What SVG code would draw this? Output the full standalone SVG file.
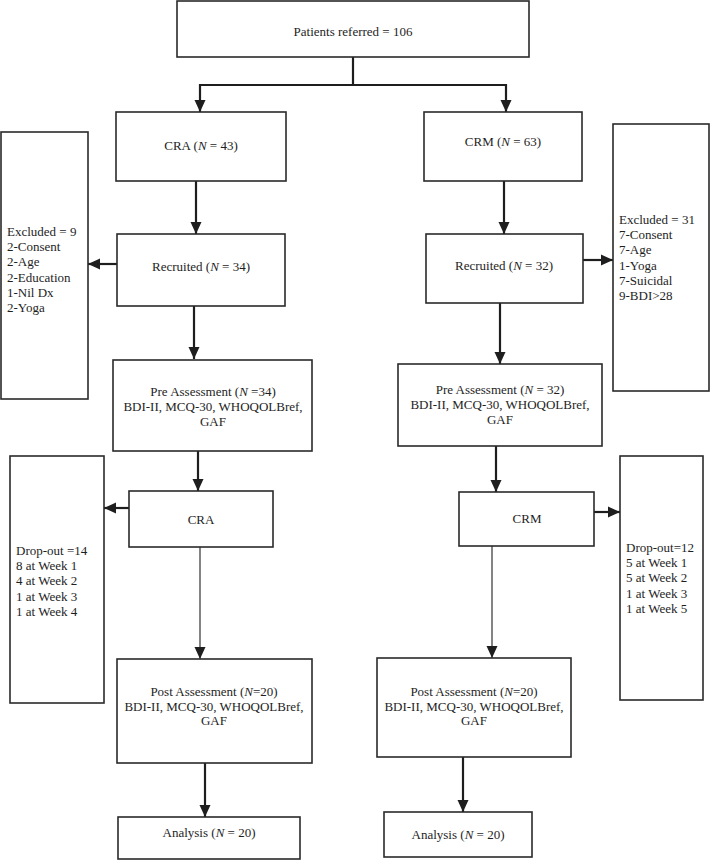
<svg xmlns="http://www.w3.org/2000/svg" width="710" height="861" viewBox="0 0 710 861">
<style>
.box{fill:#fff;stroke:#2a2a2a;stroke-width:1.6}
.t{font-family:"Liberation Serif","Times New Roman",serif;font-size:13px;fill:#1e1e1e}
.c{text-anchor:middle}
.i{font-style:italic}
.ln{fill:none;stroke:#1e1e1e;stroke-width:2.2}
.thin{fill:none;stroke:#1e1e1e;stroke-width:1.1}
</style>
<defs>
<marker id="ah" markerUnits="userSpaceOnUse" markerWidth="12" markerHeight="12" refX="12" refY="6" orient="auto">
<path d="M0,0.5 L12,6 L0,11.5 z" fill="#1e1e1e"/>
</marker>
</defs>
<rect width="710" height="861" fill="#fff"/>
<g id="connectors">
<path class="ln" d="M353,57 V85 H200 V112" marker-end="url(#ah)"/>
<path class="ln" d="M353,85 H506 V112" marker-end="url(#ah)"/>
<path class="ln" d="M196,181 V234" marker-end="url(#ah)"/>
<path class="ln" d="M117,264 H88" marker-end="url(#ah)"/>
<path class="ln" d="M504,181 V234" marker-end="url(#ah)"/>
<path class="ln" d="M583,260 H613" marker-end="url(#ah)"/>
<path class="ln" d="M194,306 V359" marker-end="url(#ah)"/>
<path class="ln" d="M198,451 V491" marker-end="url(#ah)"/>
<path class="ln" d="M129,508 H104" marker-end="url(#ah)"/>
<path class="thin" d="M200,547 V659" marker-end="url(#ah)"/>
<path class="ln" d="M205,763 V817" marker-end="url(#ah)"/>
<path class="ln" d="M500,303 V364" marker-end="url(#ah)"/>
<path class="ln" d="M496,446 V492" marker-end="url(#ah)"/>
<path class="ln" d="M594,512 H620" marker-end="url(#ah)"/>
<path class="thin" d="M492,546 V658" marker-end="url(#ah)"/>
<path class="ln" d="M463,757 V812" marker-end="url(#ah)"/>
</g>
<g id="referred">
<rect class="box" x="177" y="1" width="352" height="56"/>
<text class="t c" x="353" y="36">Patients referred = 106</text>
</g>
<g id="cra">
<rect class="box" x="116" y="112" width="170" height="69"/>
<text class="t c" x="201" y="150">CRA (<tspan class="i">N</tspan> = 43)</text>
</g>
<g id="crm">
<rect class="box" x="424" y="112" width="158" height="69"/>
<text class="t c" x="503" y="146">CRM (<tspan class="i">N</tspan> = 63)</text>
</g>
<g id="recruited-cra">
<rect class="box" x="117" y="234" width="168" height="72"/>
<text class="t c" x="201" y="271">Recruited (<tspan class="i">N</tspan> = 34)</text>
</g>
<g id="recruited-crm">
<rect class="box" x="426" y="234" width="157" height="69"/>
<text class="t c" x="504" y="270">Recruited (<tspan class="i">N</tspan> = 32)</text>
</g>
<g id="excluded-cra">
<rect class="box" x="1" y="132" width="87" height="267"/>
<text class="t" x="7" y="236">Excluded = 9</text>
<text class="t" x="7" y="251">2-Consent</text>
<text class="t" x="7" y="266">2-Age</text>
<text class="t" x="7" y="282">2-Education</text>
<text class="t" x="7" y="297">1-Nil Dx</text>
<text class="t" x="7" y="312">2-Yoga</text>
</g>
<g id="excluded-crm">
<rect class="box" x="613" y="124" width="96" height="267"/>
<text class="t" x="619" y="224">Excluded = 31</text>
<text class="t" x="619" y="239">7-Consent</text>
<text class="t" x="619" y="254">7-Age</text>
<text class="t" x="619" y="270">1-Yoga</text>
<text class="t" x="619" y="285">7-Suicidal</text>
<text class="t" x="619" y="300">9-BDI&gt;28</text>
</g>
<g id="pre-cra">
<rect class="box" x="113" y="360" width="199" height="91"/>
<text class="t c" x="213" y="396">Pre Assessment (<tspan class="i">N</tspan> =34)</text>
<text class="t c" x="213" y="411">BDI-II, MCQ-30, WHOQOLBref,</text>
<text class="t c" x="213" y="426">GAF</text>
</g>
<g id="pre-crm">
<rect class="box" x="398" y="364" width="204" height="82"/>
<text class="t c" x="500" y="394">Pre Assessment (<tspan class="i">N</tspan> = 32)</text>
<text class="t c" x="500" y="409">BDI-II, MCQ-30, WHOQOLBref,</text>
<text class="t c" x="500" y="424">GAF</text>
</g>
<g id="cra-treat">
<rect class="box" x="129" y="491" width="144" height="56"/>
<text class="t c" x="201" y="524">CRA</text>
</g>
<g id="crm-treat">
<rect class="box" x="459" y="492" width="135" height="54"/>
<text class="t c" x="527" y="523">CRM</text>
</g>
<g id="dropout-cra">
<rect class="box" x="10" y="456" width="94" height="247"/>
<text class="t" x="16" y="555">Drop-out =14</text>
<text class="t" x="16" y="570">8 at Week 1</text>
<text class="t" x="16" y="585">4 at Week 2</text>
<text class="t" x="16" y="601">1 at Week 3</text>
<text class="t" x="16" y="616">1 at Week 4</text>
</g>
<g id="dropout-crm">
<rect class="box" x="620" y="456" width="83" height="244"/>
<text class="t" x="626" y="552">Drop-out=12</text>
<text class="t" x="626" y="567">5 at Week 1</text>
<text class="t" x="626" y="582">5 at Week 2</text>
<text class="t" x="626" y="598">1 at Week 3</text>
<text class="t" x="626" y="613">1 at Week 5</text>
</g>
<g id="post-cra">
<rect class="box" x="117" y="659" width="195" height="104"/>
<text class="t c" x="214" y="696">Post Assessment (<tspan class="i">N</tspan>=20)</text>
<text class="t c" x="214" y="711">BDI-II, MCQ-30, WHOQOLBref,</text>
<text class="t c" x="214" y="725">GAF</text>
</g>
<g id="post-crm">
<rect class="box" x="377" y="658" width="194" height="99"/>
<text class="t c" x="474" y="696">Post Assessment (<tspan class="i">N</tspan>=20)</text>
<text class="t c" x="474" y="711">BDI-II, MCQ-30, WHOQOLBref,</text>
<text class="t c" x="474" y="725">GAF</text>
</g>
<g id="analysis-cra">
<rect class="box" x="118" y="817" width="182" height="42"/>
<text class="t c" x="209" y="837">Analysis (<tspan class="i">N</tspan> = 20)</text>
</g>
<g id="analysis-crm">
<rect class="box" x="384" y="812" width="148" height="45"/>
<text class="t c" x="458" y="839">Analysis (<tspan class="i">N</tspan> = 20)</text>
</g>
</svg>
